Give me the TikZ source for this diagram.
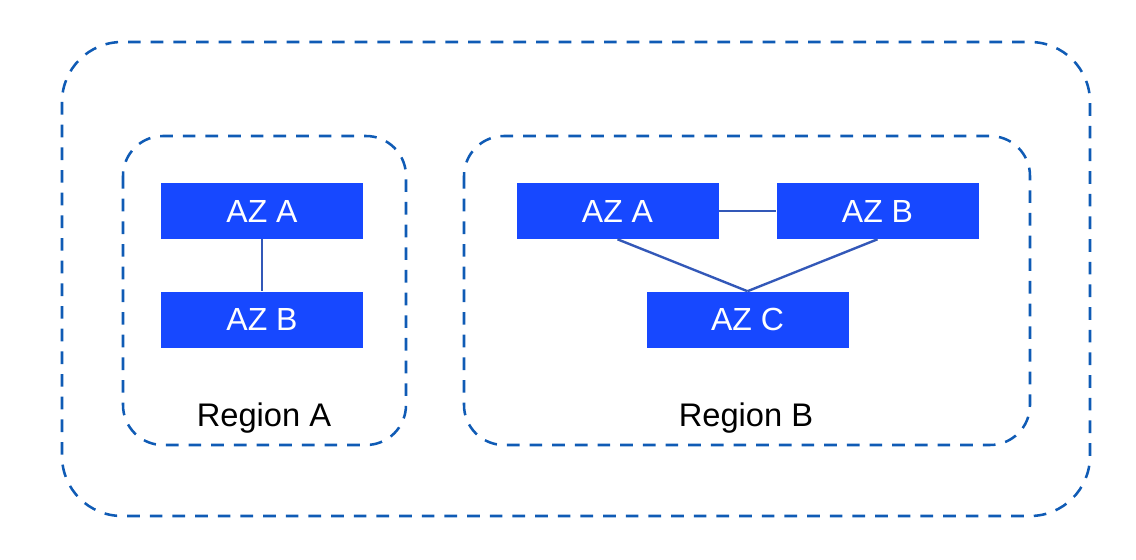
\documentclass[tikz,border=0pt]{standalone}
\usepackage{fontspec}
\setmainfont{Liberation Sans}
\definecolor{azblue}{HTML}{1748FF}
\definecolor{linkblue}{HTML}{3358B8}
\definecolor{dashblue}{HTML}{0F5BB5}
\begin{document}
\begin{tikzpicture}[x=0.75pt,y=-0.75pt,
  az/.style={fill=azblue,draw=none,minimum width=151.5pt,minimum height=42pt,inner sep=0pt,text=white,font=\fontsize{24}{28}\selectfont},
  link/.style={draw=linkblue,line width=1.8pt},
  grp/.style={draw=dashblue,line width=1.9pt,dash pattern=on 9.5pt off 7.5pt},
  lbl/.style={font=\fontsize{24.5}{28}\selectfont,text=black}]
\useasboundingbox (0,0) rectangle (1136,560);
\draw[grp,rounded corners=45pt] (62,42) rectangle (1090,516);
\draw[grp,rounded corners=30pt] (123,136) rectangle (406,445);
\draw[grp,rounded corners=30pt] (464,136) rectangle (1030,445);
\node[az] (a1) at (262,211) {AZ A};
\node[az] (a2) at (262,319.5) {AZ B};
\node[az] (b1) at (617.5,211) {AZ A};
\node[az] (b2) at (877.5,211) {AZ B};
\node[az] (b3) at (747.5,319.5) {AZ C};
\node[lbl] (la) at (264,418) {Region A};
\node[lbl] (lb) at (746,418) {Region B};
\draw[link] (a1.south) -- (a2.north);
\draw[link] (b1.east) -- (b2.west);
\draw[link] (b1.south) -- (b3.north);
\draw[link] (b2.south) -- (b3.north);
\end{tikzpicture}
\end{document}
